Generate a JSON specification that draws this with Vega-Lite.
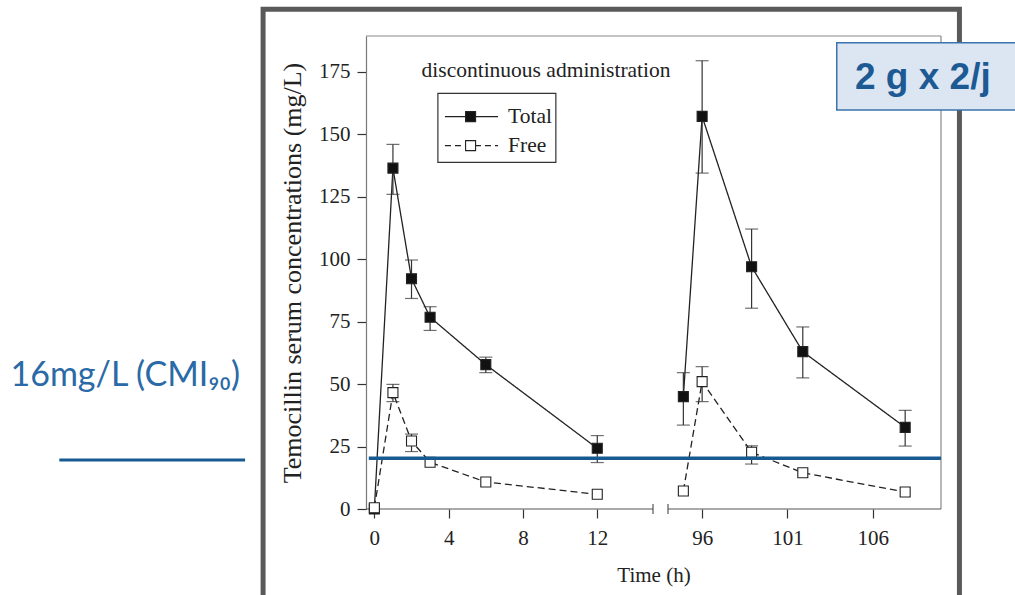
{
  "$schema": "https://vega.github.io/schema/vega-lite/v6.json",
  "width": 575,
  "height": 473,
  "autosize": "none",
  "padding": {"left": 366, "top": 36, "right": 74, "bottom": 86},
  "background": "white",
  "config": {"view": {"stroke": null}, "font": "Liberation Serif"},
  "datasets": {
    "pk": [
      {"time": 0, "conc": 0, "series": "Total", "seg": 1},
      {"time": 1, "conc": 136.5, "lo": 126, "hi": 146, "series": "Total", "seg": 1},
      {"time": 2, "conc": 92.2, "lo": 84.3, "hi": 99.7, "series": "Total", "seg": 1},
      {"time": 3, "conc": 76.8, "lo": 71.5, "hi": 81, "series": "Total", "seg": 1},
      {"time": 6, "conc": 57.8, "lo": 54.6, "hi": 60.8, "series": "Total", "seg": 1},
      {"time": 12, "conc": 24.3, "lo": 18.6, "hi": 29.4, "series": "Total", "seg": 1},
      {"time": 94.9, "conc": 45, "lo": 33.6, "hi": 54.6, "series": "Total", "seg": 2},
      {"time": 96, "conc": 157.2, "lo": 134.5, "hi": 179.5, "series": "Total", "seg": 2},
      {"time": 98.9, "conc": 97, "lo": 80.4, "hi": 112.1, "series": "Total", "seg": 2},
      {"time": 101.9, "conc": 63, "lo": 52.5, "hi": 72.9, "series": "Total", "seg": 2},
      {"time": 107.9, "conc": 32.7, "lo": 25.2, "hi": 39.5, "series": "Total", "seg": 2},
      {"time": 0, "conc": 0.5, "series": "Free", "seg": 1},
      {"time": 1, "conc": 46.6, "lo": 43, "hi": 49.9, "series": "Free", "seg": 1},
      {"time": 2, "conc": 27.2, "lo": 23, "hi": 30, "series": "Free", "seg": 1},
      {"time": 3, "conc": 18.7, "series": "Free", "seg": 1},
      {"time": 6, "conc": 10.8, "series": "Free", "seg": 1},
      {"time": 12, "conc": 5.9, "series": "Free", "seg": 1},
      {"time": 94.9, "conc": 7.2, "series": "Free", "seg": 2},
      {"time": 96, "conc": 51, "lo": 43, "hi": 57, "series": "Free", "seg": 2},
      {"time": 98.9, "conc": 22.7, "lo": 18, "hi": 25.3, "series": "Free", "seg": 2},
      {"time": 101.9, "conc": 14.5, "series": "Free", "seg": 2},
      {"time": 107.9, "conc": 6.8, "series": "Free", "seg": 2}
    ]
  },
  "data": {"name": "pk"},
  "layer": [
    {
      "mark": {"type": "line", "color": "#222222", "strokeWidth": 1.3},
      "encoding": {
        "x": {
          "field": "time", "type": "quantitative", "title": "Time (h)",
          "scale": {"domain": [-0.45, 15, 94, 110], "range": [0, 287, 302, 575], "nice": false, "zero": false},
          "axis": {
            "values": [0, 4, 8, 12, 96, 101, 106], "grid": false, "domain": false,
            "tickSize": 9, "tickColor": "#333333", "tickWidth": 1.2,
            "labelFont": "Liberation Serif", "labelFontSize": 21, "labelColor": "#222222", "labelPadding": 9,
            "titleFont": "Liberation Serif", "titleFontSize": 21, "titleFontWeight": "normal", "titleColor": "#222222", "titlePadding": 16
          }
        },
        "y": {
          "field": "conc", "type": "quantitative", "title": "Temocillin serum concentrations (mg/L)",
          "scale": {"domain": [0, 189.4], "nice": false, "zero": false},
          "axis": {
            "values": [0, 25, 50, 75, 100, 125, 150, 175], "grid": false,
            "domainColor": "#777777", "domainWidth": 1.2,
            "tickSize": 9, "tickColor": "#333333", "tickWidth": 1.2,
            "labelFont": "Liberation Serif", "labelFontSize": 21, "labelColor": "#222222", "labelPadding": 7,
            "titleFont": "Liberation Serif", "titleFontSize": 26, "titleFontWeight": "normal", "titleColor": "#222222", "titlePadding": 13
          }
        },
        "detail": {"field": "seg"},
        "strokeDash": {"field": "series", "type": "nominal", "scale": {"domain": ["Total", "Free"], "range": [[1, 0], [7, 4]]}, "legend": null}
      }
    },
    {
      "data": {"values": [{}]},
      "mark": {"type": "rect", "fillOpacity": 0, "stroke": "#5a5a5a", "strokeWidth": 5},
      "encoding": {"x": {"datum": -5.99}, "x2": {"datum": 111.08}, "y": {"datum": 200.1}, "y2": {"datum": -45}}
    },
    {
      "data": {"values": [{}]},
      "mark": {"type": "rule", "color": "#888888", "strokeWidth": 1.2},
      "encoding": {"x": {"datum": -0.45}, "x2": {"datum": 110}, "y": {"datum": 189.4}}
    },
    {
      "data": {"values": [{}]},
      "mark": {"type": "rule", "color": "#888888", "strokeWidth": 1.2},
      "encoding": {"x": {"datum": 110}, "y": {"datum": 0}, "y2": {"datum": 189.4}}
    },
    {
      "data": {"values": [{}]},
      "mark": {"type": "rule", "color": "#555555", "strokeWidth": 1.2},
      "encoding": {"x": {"datum": -0.45}, "x2": {"datum": 15}, "y": {"datum": 0}}
    },
    {
      "data": {"values": [{}]},
      "mark": {"type": "rule", "color": "#555555", "strokeWidth": 1.2},
      "encoding": {"x": {"datum": 94}, "x2": {"datum": 110}, "y": {"datum": 0}}
    },
    {
      "data": {"values": [{}]},
      "mark": {"type": "rule", "color": "#555555", "strokeWidth": 1.2},
      "encoding": {"x": {"datum": 15}, "y": {"datum": -2}, "y2": {"datum": 2}}
    },
    {
      "data": {"values": [{}]},
      "mark": {"type": "rule", "color": "#555555", "strokeWidth": 1.2},
      "encoding": {"x": {"datum": 94}, "y": {"datum": -2}, "y2": {"datum": 2}}
    },
    {
      "transform": [{"filter": "isValid(datum.lo)"}],
      "mark": {"type": "rule", "color": "#333333", "strokeWidth": 1.2},
      "encoding": {"x": {"field": "time", "type": "quantitative"}, "y": {"field": "lo", "type": "quantitative"}, "y2": {"field": "hi"}}
    },
    {
      "transform": [{"filter": "isValid(datum.lo)"}],
      "mark": {"type": "tick", "orient": "horizontal", "size": 13, "thickness": 1.2, "color": "#333333"},
      "encoding": {"x": {"field": "time", "type": "quantitative"}, "y": {"field": "lo", "type": "quantitative"}}
    },
    {
      "transform": [{"filter": "isValid(datum.hi)"}],
      "mark": {"type": "tick", "orient": "horizontal", "size": 13, "thickness": 1.2, "color": "#333333"},
      "encoding": {"x": {"field": "time", "type": "quantitative"}, "y": {"field": "hi", "type": "quantitative"}}
    },
    {
      "mark": {"type": "square", "size": 100, "stroke": "#222222", "strokeWidth": 1.1, "opacity": 1},
      "encoding": {
        "x": {"field": "time", "type": "quantitative"},
        "y": {"field": "conc", "type": "quantitative"},
        "fill": {"field": "series", "type": "nominal", "scale": {"domain": ["Total", "Free"], "range": ["#111111", "#ffffff"]}, "legend": null}
      }
    },
    {
      "data": {"values": [{}]},
      "mark": {"type": "rule", "color": "#175a92", "strokeWidth": 3.5},
      "encoding": {"x": {"datum": -0.3}, "x2": {"datum": 110}, "y": {"datum": 20.3}}
    },
    {
      "data": {"values": [{}]},
      "mark": {"type": "rect", "fill": "#ffffff", "stroke": "#333333", "strokeWidth": 1.2},
      "encoding": {"x": {"datum": 3.42}, "x2": {"datum": 9.77}, "y": {"datum": 138.8}, "y2": {"datum": 166.4}}
    },
    {
      "data": {"values": [{}]},
      "mark": {"type": "rule", "color": "#222222", "strokeWidth": 1.3},
      "encoding": {"x": {"datum": 3.8}, "x2": {"datum": 6.66}, "y": {"datum": 157.1}}
    },
    {
      "data": {"values": [{}]},
      "mark": {"type": "rule", "color": "#222222", "strokeWidth": 1.3, "strokeDash": [6, 4]},
      "encoding": {"x": {"datum": 3.8}, "x2": {"datum": 6.66}, "y": {"datum": 145.5}}
    },
    {
      "data": {"values": [{}]},
      "mark": {"type": "square", "size": 100, "fill": "#111111", "stroke": "#222222", "strokeWidth": 1.1, "opacity": 1},
      "encoding": {"x": {"datum": 5.18}, "y": {"datum": 157.1}}
    },
    {
      "data": {"values": [{}]},
      "mark": {"type": "square", "size": 100, "fill": "#ffffff", "stroke": "#222222", "strokeWidth": 1.1, "opacity": 1},
      "encoding": {"x": {"datum": 5.18}, "y": {"datum": 145.5}}
    },
    {
      "data": {"values": [{}]},
      "mark": {"type": "text", "align": "left", "baseline": "middle", "font": "Liberation Serif", "fontSize": 21.5, "color": "#222222"},
      "encoding": {"x": {"datum": 7.2}, "y": {"datum": 157.1}, "text": {"value": "Total"}}
    },
    {
      "data": {"values": [{}]},
      "mark": {"type": "text", "align": "left", "baseline": "middle", "font": "Liberation Serif", "fontSize": 21.5, "color": "#222222"},
      "encoding": {"x": {"datum": 7.2}, "y": {"datum": 145.5}, "text": {"value": "Free"}}
    },
    {
      "data": {"values": [{}]},
      "mark": {"type": "text", "align": "left", "baseline": "alphabetic", "font": "Liberation Serif", "fontSize": 21.5, "color": "#222222"},
      "encoding": {"x": {"datum": 2.54}, "y": {"datum": 173}, "text": {"value": "discontinuous administration"}}
    },
    {
      "data": {"values": [{}]},
      "mark": {"type": "rect", "fill": "#dce6f2", "stroke": "#3a73ad", "strokeWidth": 1.5},
      "encoding": {"x": {"datum": 103.89}, "x2": {"datum": 114.6}, "y": {"datum": 186.7}, "y2": {"datum": 159.8}}
    },
    {
      "data": {"values": [{}]},
      "mark": {"type": "text", "align": "left", "baseline": "alphabetic", "font": "Liberation Sans", "fontWeight": "bold", "fontSize": 37, "color": "#1d5a94"},
      "encoding": {"x": {"datum": 104.96}, "y": {"datum": 168.05}, "text": {"value": "2 g x 2/j"}}
    },
    {
      "data": {"values": [{}]},
      "mark": {"type": "text", "align": "left", "baseline": "alphabetic", "font": "Lato", "fontSize": 34, "color": "#2a6aa6"},
      "encoding": {"x": {"datum": -19.59}, "y": {"datum": 49.4}, "text": {"value": "16mg/L (CMI₉₀)"}}
    },
    {
      "data": {"values": [{}]},
      "mark": {"type": "rule", "color": "#175a92", "strokeWidth": 3},
      "encoding": {"x": {"datum": -16.96}, "x2": {"datum": -6.96}, "y": {"datum": 19.6}}
    }
  ]
}
